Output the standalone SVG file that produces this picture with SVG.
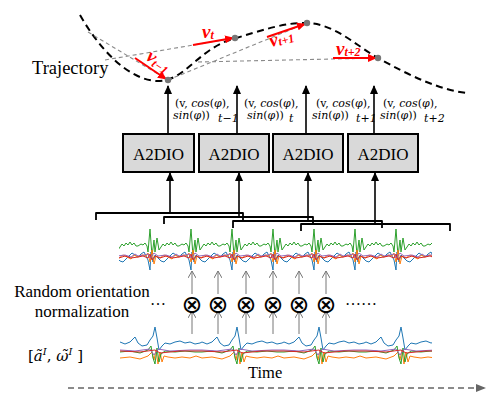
<svg xmlns="http://www.w3.org/2000/svg" width="503" height="400" viewBox="0 0 503 400">
<style>
.serif{font-family:'Liberation Serif','Times New Roman',serif;fill:#000}
.math{font-family:'DejaVu Serif','Liberation Serif',serif;fill:#000;font-size:11px}
.it{font-style:italic}
.box{fill:#d9d9d9;stroke:#000;stroke-width:2}
.blk{stroke:#000;stroke-width:1.6;fill:none}
.brk{stroke:#000;stroke-width:1.8;fill:none;stroke-linejoin:round}
.gdash{stroke:#8a8a8a;stroke-width:1.1;stroke-dasharray:4 3;fill:none}
.red{stroke:#ff0000;stroke-width:2;fill:none}
.rlab{font-family:'Liberation Serif',serif;font-style:italic;font-weight:bold;fill:#ff0000}
.thin{stroke:#777;stroke-width:1;fill:none}
.sig{fill:none;stroke-width:1;stroke-linejoin:round}
.b{stroke:#1f77b4}.o{stroke:#ff7f0e}.g{stroke:#2ca02c}.r{stroke:#d62728}.p{stroke:#9467bd}
</style>
<defs>
<marker id="ah" markerUnits="userSpaceOnUse" markerWidth="9" markerHeight="9" refX="8" refY="4.5" orient="auto"><path d="M0,0.5 L9,4.5 L0,8.5 z" fill="#000"/></marker>
<marker id="rh" markerUnits="userSpaceOnUse" markerWidth="9" markerHeight="9" refX="8" refY="4.5" orient="auto"><path d="M0,0.5 L9,4.5 L0,8.5 z" fill="#ff0000"/></marker>
<marker id="gh" markerUnits="userSpaceOnUse" markerWidth="8" markerHeight="8" refX="7" refY="4" orient="auto"><path d="M0,0 L7,4 L0,8" fill="none" stroke="#777" stroke-width="1"/></marker>
<marker id="th" markerUnits="userSpaceOnUse" markerWidth="10" markerHeight="10" refX="9" refY="5" orient="auto"><path d="M0,1 L10,5 L0,9 z" fill="#666"/></marker>
<clipPath id="c1"><rect x="119" y="220" width="313" height="60"/></clipPath>
<clipPath id="c2"><rect x="120" y="318" width="312" height="55"/></clipPath>
<g id="t1">
<path class="sig g" d="M0,246 L3,244 L5,245 L7,243 L9,246 L10,252 L12,229 L14,256 L16,240 L17,252 L19,238 L21,250 L23,247 L25,244 L27,246 L29,243 L31,245 L33,242 L35,245 L37,243 L39,246 L41,246"/>
<path class="sig b" d="M0,257 L3,254 L6,252 L8,256 L10,260 L12,270 L13,252 L15,262 L17,255 L20,258 L23,261 L26,262 L29,259 L32,256 L35,253 L38,255 L41,257"/>
<path class="sig o" d="M0,257 L4,255 L8,256 L10,253 L12,262 L14,250 L16,264 L18,256 L22,258 L26,255 L30,257 L34,259 L37,255 L41,257"/>
<path class="sig p" d="M0,256 L6,255 L10,254 L12,258 L16,253 L20,256 L28,255 L34,257 L38,254 L41,256"/>
<path class="sig r" d="M0,257 L5,256 L10,258 L12,254 L14,260 L17,256 L22,258 L28,256 L34,258 L41,257"/>
</g>
<g id="t2">
<path class="sig b" d="M0,342 L5,344 L10,342 L15,337 L18,343 L22,346 L27,345 L30,340 L33,336 L35,327 L37,338 L39,350 L42,346 L45,343 L50,344 L55,342 L60,341 L65,343 L70,342 L75,344 L80,343 L82,342"/>
<path class="sig o" d="M0,358 L10,357 L20,359 L28,356 L32,352 L34,360 L36,350 L38,364 L40,352 L42,362 L44,356 L48,357 L55,358 L62,357 L70,358 L76,356 L82,358"/>
<path class="sig g" d="M0,352 L10,351 L20,353 L28,350 L31,346 L33,358 L35,364 L37,348 L39,362 L41,354 L45,351 L55,352 L65,351 L75,352 L82,352"/>
<path class="sig p" d="M0,350 L15,351 L30,349 L34,355 L38,349 L50,351 L70,350 L82,350"/>
<path class="sig r" d="M0,351 L20,352 L35,350 L40,353 L60,351 L82,351"/>
</g>
</defs>
<rect width="503" height="400" fill="#fff"/>

<g id="trajectory">
<path d="M80,15 C100,50 130,82 160,81 C185,80 200,48 233,39 C260,31 285,22 307,23 C335,24 355,45 378,58 C410,76 440,90 467,93" fill="none" stroke="#000" stroke-width="2" stroke-dasharray="7 4.5"/>
<path class="gdash" d="M88,32 L168,80"/>
<path class="gdash" d="M105,60 L235,38"/>
<path class="gdash" d="M168,80 L307,23"/>
<path class="gdash" d="M198,62 L378,58"/>
<path class="red" d="M135,58 L166,79" marker-end="url(#rh)"/>
<path class="red" d="M193,45 L233,38" marker-end="url(#rh)"/>
<path class="red" d="M267,37 L305,24" marker-end="url(#rh)"/>
<path class="red" d="M333,58 L376,58" marker-end="url(#rh)"/>
<circle cx="168" cy="80" r="3.2" fill="#777"/>
<circle cx="235" cy="38" r="3.2" fill="#777"/>
<circle cx="307" cy="23" r="3.2" fill="#777"/>
<circle cx="378" cy="58" r="3.2" fill="#777"/>
<text class="rlab" font-size="19" transform="translate(145,59) rotate(35)">v<tspan font-size="12" dy="2">t−1</tspan></text>
<text class="rlab" font-size="19" x="202" y="38">v<tspan font-size="12" dy="1">t</tspan></text>
<text class="rlab" font-size="19" transform="translate(271,47) rotate(-15)">v<tspan font-size="12" dy="1">t+1</tspan></text>
<text class="rlab" font-size="19" x="336" y="55">v<tspan font-size="12" dy="1">t+2</tspan></text>
<text font-family="Liberation Serif, serif" font-size="18.5" x="32" y="74">Trajectory</text>
</g>

<g id="outputs">
<text class="math" x="175" y="107">(v, <tspan class="it">cos</tspan>(<tspan class="it">φ</tspan>),</text>
<text class="math" x="173" y="119"><tspan class="it">sin</tspan>(<tspan class="it">φ</tspan>))</text>
<text class="math it" font-size="8.5" x="218" y="122">t−1</text>
<text class="math" x="244" y="107">(v, <tspan class="it">cos</tspan>(<tspan class="it">φ</tspan>),</text>
<text class="math" x="247" y="119"><tspan class="it">sin</tspan>(<tspan class="it">φ</tspan>))</text>
<text class="math it" font-size="8.5" x="289" y="122">t</text>
<text class="math" x="316" y="107">(v, <tspan class="it">cos</tspan>(<tspan class="it">φ</tspan>),</text>
<text class="math" x="312" y="119"><tspan class="it">sin</tspan>(<tspan class="it">φ</tspan>))</text>
<text class="math it" font-size="8.5" x="356" y="122">t+1</text>
<text class="math" x="383" y="107">(v, <tspan class="it">cos</tspan>(<tspan class="it">φ</tspan>),</text>
<text class="math" x="380" y="119"><tspan class="it">sin</tspan>(<tspan class="it">φ</tspan>))</text>
<text class="math it" font-size="8.5" x="424" y="122">t+2</text>
</g>

<g id="a2dio1"><rect class="box" x="123" y="134" width="71" height="38"/><text font-family="Liberation Serif, serif" font-size="17" x="158.5" y="159.5" text-anchor="middle">A2DIO</text></g>
<g id="a2dio2"><rect class="box" x="199" y="134" width="70" height="38"/><text font-family="Liberation Serif, serif" font-size="17" x="234" y="159.5" text-anchor="middle">A2DIO</text></g>
<g id="a2dio3"><rect class="box" x="273" y="134" width="70" height="38"/><text font-family="Liberation Serif, serif" font-size="17" x="308" y="159.5" text-anchor="middle">A2DIO</text></g>
<g id="a2dio4"><rect class="box" x="348" y="134" width="70" height="38"/><text font-family="Liberation Serif, serif" font-size="17" x="383" y="159.5" text-anchor="middle">A2DIO</text></g>

<g id="connectors">
<path class="blk" d="M168,134 L168,86" marker-end="url(#ah)"/>
<path class="blk" d="M237,134 L237,86" marker-end="url(#ah)"/>
<path class="blk" d="M306,134 L306,86" marker-end="url(#ah)"/>
<path class="blk" d="M374,134 L374,86" marker-end="url(#ah)"/>
<path class="blk" d="M170,213 L170,173" marker-end="url(#ah)"/>
<path class="blk" d="M239,217 L239,173" marker-end="url(#ah)"/>
<path class="blk" d="M308,221 L308,173" marker-end="url(#ah)"/>
<path class="blk" d="M375,224 L375,173" marker-end="url(#ah)"/>
<path class="brk" d="M96,220 V213 H243 V220"/>
<path class="brk" d="M164,224 V217 H313 V224"/>
<path class="brk" d="M233,228 V221 H382 V228"/>
<path class="brk" d="M301,231 V224 H450 V231"/>
<g>
<path class="thin" d="M192,294 L192,271" marker-end="url(#gh)"/>
<path class="thin" d="M218,294 L218,271" marker-end="url(#gh)"/>
<path class="thin" d="M246,294 L246,271" marker-end="url(#gh)"/>
<path class="thin" d="M273,294 L273,271" marker-end="url(#gh)"/>
<path class="thin" d="M299,294 L299,271" marker-end="url(#gh)"/>
<path class="thin" d="M326,294 L326,271" marker-end="url(#gh)"/>
<path class="thin" d="M192,334 L192,311" marker-end="url(#gh)"/>
<path class="thin" d="M218,334 L218,311" marker-end="url(#gh)"/>
<path class="thin" d="M246,334 L246,311" marker-end="url(#gh)"/>
<path class="thin" d="M273,334 L273,311" marker-end="url(#gh)"/>
<path class="thin" d="M299,334 L299,311" marker-end="url(#gh)"/>
<path class="thin" d="M326,334 L326,311" marker-end="url(#gh)"/>
</g>
<path d="M68,388 L485,388" stroke="#666" stroke-width="1.5" stroke-dasharray="6 4" fill="none" marker-end="url(#th)"/>
</g>

<g id="signal-top" clip-path="url(#c1)">
<use href="#t1" x="97"/><use href="#t1" x="138"/><use href="#t1" x="179"/><use href="#t1" x="220"/><use href="#t1" x="261"/><use href="#t1" x="302"/><use href="#t1" x="343"/><use href="#t1" x="384"/><use href="#t1" x="425"/>
</g>

<g id="normalization">
<text font-family="DejaVu Sans, sans-serif" font-size="25" text-anchor="middle" y="313"><tspan x="192">⊗</tspan><tspan x="218">⊗</tspan><tspan x="246">⊗</tspan><tspan x="273">⊗</tspan><tspan x="299">⊗</tspan><tspan x="326">⊗</tspan></text>
<text font-family="Liberation Serif, serif" font-size="16" x="150" y="305">…</text>
<text font-family="Liberation Serif, serif" font-size="16" x="345" y="305">……</text>
<text font-family="Liberation Serif, serif" font-size="17" x="82" y="297" text-anchor="middle">Random orientation</text>
<text font-family="Liberation Serif, serif" font-size="17" x="82" y="317" text-anchor="middle">normalization</text>
</g>

<g id="signal-bottom" clip-path="url(#c2)">
<use href="#t2" x="120"/><use href="#t2" x="202"/><use href="#t2" x="284"/><use href="#t2" x="366"/>
</g>

<g id="labels">
<text font-family="DejaVu Serif, serif" font-size="15" x="28" y="361">[<tspan font-style="italic">ã</tspan><tspan font-style="italic" font-size="10" dy="-6">I</tspan><tspan dy="6">, </tspan><tspan font-style="italic">ω̃</tspan><tspan font-style="italic" font-size="10" dy="-6">I</tspan><tspan dy="6"> ]</tspan></text>
<text font-family="Liberation Serif, serif" font-size="16.5" x="248" y="378">Time</text>
</g>
</svg>
